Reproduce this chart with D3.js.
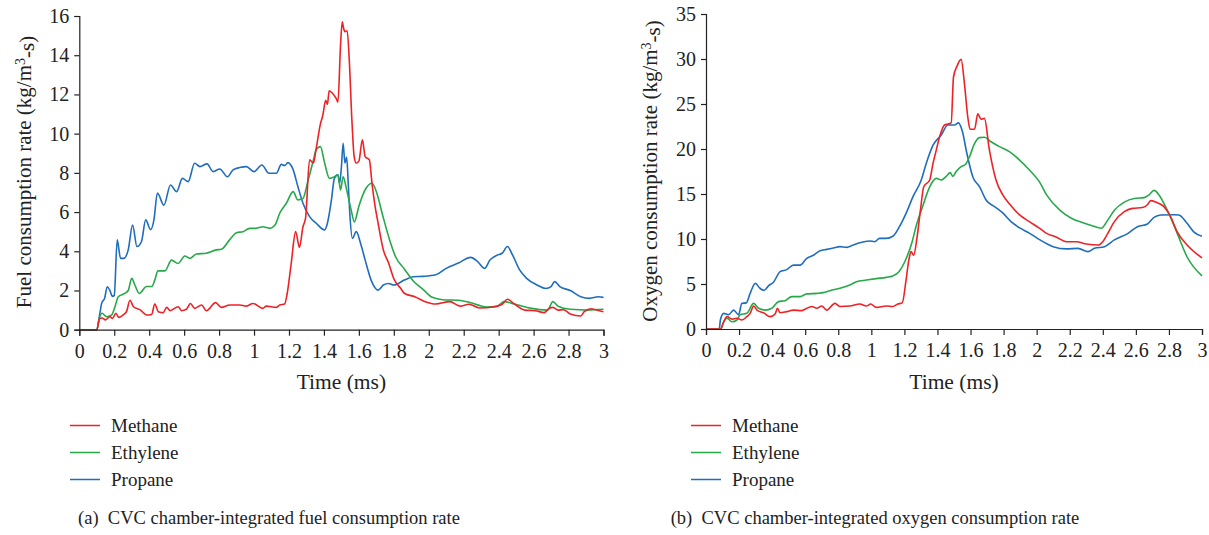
<!DOCTYPE html>
<html><head><meta charset="utf-8">
<script src="https://cdn.jsdelivr.net/npm/d3@7"></script>
<style>
body{margin:0;background:#fff;}
svg text{font-family:"Liberation Serif","Times New Roman",serif;fill:#222;}
</style></head>
<body><svg id="c" width="1209" height="535"></svg>
<script>
// ---- data ----
const seriesNames = ["Methane","Ethylene","Propane"];
const xTicks = [0,0.2,0.4,0.6,0.8,1,1.2,1.4,1.6,1.8,2,2.2,2.4,2.6,2.8,3];
const yTicksFuel = [0,2,4,6,8,10,12,14,16];
const yTicksOxy = [0,5,10,15,20,25,30,35];

const fuelMethane = [[0,0],[0.1,0],[0.115,0.55],[0.13,0.6],[0.15,0.5],[0.175,0.66],[0.19,0.58],[0.21,0.84],[0.225,0.63],[0.25,0.75],[0.27,0.92],[0.29,1.5],[0.31,1.17],[0.35,1.0],[0.385,0.75],[0.414,0.78],[0.432,1.31],[0.452,0.92],[0.48,0.87],[0.5,1.14],[0.52,0.97],[0.566,1.17],[0.585,0.97],[0.613,1.04],[0.636,1.34],[0.66,1.09],[0.7,1.26],[0.727,0.97],[0.78,1.38],[0.813,1.14],[0.86,1.26],[0.918,1.26],[0.956,1.2],[0.994,1.34],[1.05,1.09],[1.07,1.2],[1.128,1.14],[1.147,1.26],[1.175,1.31],[1.19,1.86],[1.213,3.4],[1.238,5.0],[1.26,4.2],[1.28,5.25],[1.295,5.7],[1.318,8.66],[1.34,8.5],[1.355,9.2],[1.38,10.5],[1.394,10.95],[1.41,11.7],[1.42,11.5],[1.43,12.18],[1.45,12.05],[1.47,11.8],[1.48,11.6],[1.495,14.5],[1.505,15.7],[1.512,15.4],[1.52,15.2],[1.533,15.25],[1.545,13.76],[1.56,10.7],[1.573,8.83],[1.585,8.5],[1.6,8.6],[1.62,9.68],[1.636,8.83],[1.66,8.66],[1.675,7.48],[1.69,6.46],[1.71,5.44],[1.74,4.07],[1.77,3.4],[1.8,2.6],[1.84,2.1],[1.86,1.86],[1.92,1.68],[1.98,1.43],[2.04,1.31],[2.12,1.43],[2.18,1.2],[2.23,1.3],[2.29,1.11],[2.37,1.16],[2.42,1.3],[2.45,1.55],[2.49,1.31],[2.55,1.0],[2.61,0.97],[2.66,0.87],[2.69,1.09],[2.71,1.14],[2.74,1.0],[2.77,1.02],[2.81,0.8],[2.87,0.7],[2.89,0.92],[2.93,1.07],[2.96,1.0],[3.0,0.92]];
const fuelEthylene = [[0,0],[0.1,0],[0.115,0.6],[0.13,0.84],[0.156,0.66],[0.185,0.75],[0.204,1.17],[0.223,1.68],[0.26,1.85],[0.28,2.0],[0.3,2.62],[0.318,2.28],[0.343,1.85],[0.385,2.2],[0.414,2.2],[0.432,2.53],[0.45,3.0],[0.49,3.0],[0.528,3.55],[0.566,3.38],[0.604,3.76],[0.633,3.64],[0.67,3.86],[0.727,3.9],[0.785,4.07],[0.813,4.1],[0.86,4.58],[0.9,4.95],[0.937,5.0],[0.975,5.17],[1.01,5.17],[1.05,5.25],[1.09,5.17],[1.12,5.34],[1.147,5.94],[1.185,6.45],[1.224,7.04],[1.25,6.62],[1.28,6.7],[1.31,7.64],[1.34,8.66],[1.355,9.17],[1.38,9.34],[1.404,8.5],[1.432,7.72],[1.46,7.8],[1.48,7.9],[1.495,7.13],[1.51,7.8],[1.53,7.13],[1.556,6.1],[1.574,5.5],[1.6,6.3],[1.64,7.2],[1.675,7.47],[1.7,7.04],[1.738,5.77],[1.776,4.58],[1.81,3.72],[1.86,3.1],[1.91,2.5],[1.97,2.03],[2.02,1.65],[2.08,1.53],[2.17,1.5],[2.23,1.4],[2.33,1.16],[2.39,1.19],[2.43,1.43],[2.49,1.31],[2.58,1.1],[2.68,1.0],[2.71,1.43],[2.74,1.2],[2.81,1.04],[2.91,1.0],[3.0,1.04]];
const fuelPropane = [[0,0],[0.1,0],[0.118,0.84],[0.128,1.35],[0.145,1.6],[0.16,2.19],[0.175,2.0],[0.19,1.7],[0.2,1.75],[0.217,4.58],[0.236,3.64],[0.255,3.64],[0.28,4.07],[0.305,5.34],[0.33,4.24],[0.356,4.5],[0.38,5.6],[0.408,5.1],[0.427,5.6],[0.447,6.97],[0.484,6.35],[0.522,7.38],[0.557,7.04],[0.59,7.72],[0.623,7.55],[0.66,8.49],[0.69,8.32],[0.731,8.46],[0.766,8.06],[0.804,8.2],[0.848,7.8],[0.88,8.15],[0.918,8.27],[0.956,8.32],[1.0,8.06],[1.045,8.4],[1.085,7.98],[1.128,7.98],[1.156,8.43],[1.175,8.37],[1.194,8.52],[1.222,8.2],[1.251,7.3],[1.28,6.45],[1.318,5.77],[1.356,5.43],[1.404,5.09],[1.42,5.43],[1.443,6.62],[1.46,7.72],[1.48,7.9],[1.49,7.47],[1.5,8.3],[1.51,9.51],[1.52,8.5],[1.53,8.8],[1.54,7.3],[1.548,5.94],[1.563,4.66],[1.585,5.0],[1.61,4.4],[1.636,3.55],[1.67,2.53],[1.71,2.02],[1.74,2.28],[1.77,2.36],[1.8,2.28],[1.86,2.53],[1.91,2.7],[1.97,2.72],[2.04,2.8],[2.1,3.13],[2.17,3.4],[2.24,3.69],[2.28,3.47],[2.32,3.13],[2.35,3.55],[2.39,3.8],[2.42,3.9],[2.45,4.24],[2.48,3.8],[2.52,3.05],[2.56,2.62],[2.62,2.28],[2.67,2.1],[2.7,2.2],[2.72,2.45],[2.75,2.2],[2.81,2.0],[2.87,1.68],[2.92,1.6],[2.97,1.68],[3.0,1.65]];

const oxyMethane = [[0,0],[0.087,0],[0.107,0.8],[0.127,1.37],[0.157,1.1],[0.187,1.2],[0.217,1.0],[0.247,1.37],[0.267,1.74],[0.288,2.55],[0.308,2.1],[0.348,1.8],[0.388,1.37],[0.418,1.67],[0.432,2.3],[0.448,1.8],[0.488,1.93],[0.529,2.1],[0.579,2.04],[0.599,2.2],[0.64,2.5],[0.67,2.3],[0.7,2.55],[0.73,2.1],[0.78,2.85],[0.81,2.5],[0.87,2.55],[0.93,2.77],[0.97,2.55],[0.996,2.77],[1.03,2.4],[1.09,2.55],[1.13,2.5],[1.16,2.77],[1.187,2.9],[1.21,5.44],[1.227,7.67],[1.24,8.6],[1.256,8.2],[1.277,10.26],[1.297,13.2],[1.317,15.8],[1.353,16.56],[1.373,18.4],[1.393,19.9],[1.413,21.37],[1.443,22.67],[1.483,22.9],[1.497,28.0],[1.517,29.15],[1.543,29.96],[1.563,27.3],[1.583,23.6],[1.597,22.2],[1.624,22.2],[1.644,23.9],[1.664,23.3],[1.684,23.4],[1.714,19.9],[1.754,16.56],[1.795,14.9],[1.845,13.7],[1.895,12.7],[1.956,11.93],[2.016,11.2],[2.06,10.63],[2.12,10.2],[2.18,9.7],[2.24,9.7],[2.3,9.45],[2.37,9.33],[2.4,9.7],[2.43,10.63],[2.47,11.93],[2.53,13.04],[2.58,13.4],[2.64,13.5],[2.67,13.8],[2.69,14.26],[2.72,14.1],[2.77,13.6],[2.81,12.5],[2.85,10.8],[2.91,9.33],[3.0,7.9]];
const oxyEthylene = [[0,0],[0.09,0],[0.107,0.8],[0.127,1.2],[0.157,0.8],[0.187,1.0],[0.207,1.6],[0.247,1.74],[0.288,2.85],[0.318,2.3],[0.358,2.1],[0.398,2.3],[0.438,3.04],[0.478,3.15],[0.519,3.6],[0.569,3.6],[0.609,3.9],[0.67,3.96],[0.71,4.04],[0.75,4.26],[0.81,4.52],[0.87,4.89],[0.91,5.26],[0.97,5.44],[1.03,5.6],[1.09,5.74],[1.13,5.9],[1.167,6.37],[1.207,7.67],[1.247,9.7],[1.27,11.37],[1.31,13.6],[1.353,15.8],[1.393,16.74],[1.423,16.56],[1.453,16.96],[1.477,17.37],[1.493,16.96],[1.513,17.5],[1.543,18.04],[1.57,18.3],[1.594,19.15],[1.624,20.6],[1.654,21.26],[1.684,21.3],[1.724,20.8],[1.775,20.26],[1.835,19.7],[1.895,18.8],[1.956,17.67],[2.016,16.37],[2.06,14.9],[2.14,13.2],[2.21,12.3],[2.28,11.8],[2.34,11.44],[2.39,11.2],[2.43,12.1],[2.47,13.2],[2.53,14.1],[2.59,14.5],[2.65,14.6],[2.68,14.9],[2.71,15.4],[2.74,14.9],[2.79,13.2],[2.85,10.63],[2.91,8.0],[3.0,5.9]];
const oxyPropane = [[0,0],[0.08,0],[0.087,1.0],[0.107,1.74],[0.137,1.6],[0.167,2.1],[0.197,1.6],[0.217,2.85],[0.243,2.9],[0.267,3.96],[0.298,5.07],[0.328,4.5],[0.352,4.3],[0.378,4.8],[0.408,5.2],[0.448,6.37],[0.488,6.6],[0.529,7.1],[0.569,7.1],[0.609,7.85],[0.65,8.2],[0.69,8.7],[0.73,8.85],[0.77,9.0],[0.81,9.15],[0.85,9.07],[0.89,9.33],[0.93,9.59],[0.99,9.78],[1.02,9.7],[1.05,10.07],[1.09,10.07],[1.13,10.3],[1.17,11.37],[1.21,12.85],[1.252,14.7],[1.302,16.56],[1.332,18.4],[1.373,20.44],[1.423,21.55],[1.463,22.67],[1.503,22.67],[1.527,22.9],[1.55,22.0],[1.578,19.5],[1.614,16.9],[1.655,15.8],[1.695,14.3],[1.745,13.6],[1.795,12.9],[1.845,11.93],[1.9,11.2],[1.96,10.6],[2.02,9.9],[2.1,9.15],[2.18,8.9],[2.25,8.96],[2.31,8.6],[2.35,8.96],[2.41,9.15],[2.47,9.9],[2.55,10.6],[2.61,11.37],[2.67,11.67],[2.71,12.4],[2.75,12.67],[2.83,12.7],[2.86,12.67],[2.91,11.74],[2.95,10.8],[3.0,10.3]];

const colors = ["#ee2226","#27a94a","#1f6dbd"];

// ---- drawing ----
const svg = d3.select("#c");

const panels = [
  {x0:79.3, x1:603.5, y0:329.7, y1:16, ymax:16, yTicks:yTicksFuel, series:[fuelMethane,fuelEthylene,fuelPropane],
   ytitle:"Fuel consumption rate (kg/m", ytx:31, yty:172, legX:70, caption:"(a)\u2002CVC chamber-integrated fuel consumption rate", capX:269},
  {x0:706, x1:1202, y0:329, y1:14, ymax:35, yTicks:yTicksOxy, series:[oxyMethane,oxyEthylene,oxyPropane],
   ytitle:"Oxygen consumption rate (kg/m", ytx:657, yty:171, legX:691, caption:"(b)\u2002CVC chamber-integrated oxygen consumption rate", capX:875}
];

panels.forEach(p => {
  const x = d3.scaleLinear().domain([0,3]).range([p.x0,p.x1]);
  const y = d3.scaleLinear().domain([0,p.ymax]).range([p.y0,p.y1]);
  const g = svg.append("g");

  const lineGen = d3.line().x(d=>x(d[0])).y(d=>y(d[1])).curve(d3.curveMonotoneX);
  [2,1,0].forEach(i => {
    g.append("path").datum(p.series[i]).attr("d", lineGen)
      .attr("fill","none").attr("stroke",colors[i]).attr("stroke-width",1.6)
      .attr("stroke-linejoin","round");
  });

  const xa = g.append("g").attr("transform",`translate(0,${p.y0})`)
    .call(d3.axisBottom(x).tickValues(xTicks).tickFormat(d3.format("~g")).tickSizeOuter(0).tickSize(6).tickPadding(8));
  const ya = g.append("g").attr("transform",`translate(${p.x0},0)`)
    .call(d3.axisLeft(y).tickValues(p.yTicks).tickSizeOuter(0).tickSize(5).tickPadding(5));
  [xa,ya].forEach(a=>{
    a.selectAll("path,line").attr("stroke","#222").attr("stroke-width",1.2);
    a.selectAll("text").attr("font-size","20px").attr("font-family","Liberation Serif").attr("fill","#222");
  });

  g.append("text").attr("x",(p.x0+p.x1)/2).attr("y",389).attr("text-anchor","middle")
    .attr("font-size","21.5px").text("Time (ms)");

  const yt = g.append("text").attr("transform",`translate(${p.ytx},${p.yty}) rotate(-90)`)
    .attr("text-anchor","middle").attr("font-size","21px");
  yt.append("tspan").text(p.ytitle);
  yt.append("tspan").attr("dy","-0.45em").attr("font-size","14px").text("3");
  yt.append("tspan").attr("dy","0.45em").text("-s)");

  seriesNames.forEach((n,i)=>{
    const ly = 425.5 + i*27;
    g.append("line").attr("x1",p.legX).attr("x2",p.legX+30).attr("y1",ly).attr("y2",ly)
      .attr("stroke",colors[i]).attr("stroke-width",1.5);
    g.append("text").attr("x",p.legX+41).attr("y",ly+6.5).attr("font-size","19px").text(n);
  });

  g.append("text").attr("x",p.capX).attr("y",524).attr("text-anchor","middle")
    .attr("font-size","18.5px").text(p.caption);
});
</script></body></html>
